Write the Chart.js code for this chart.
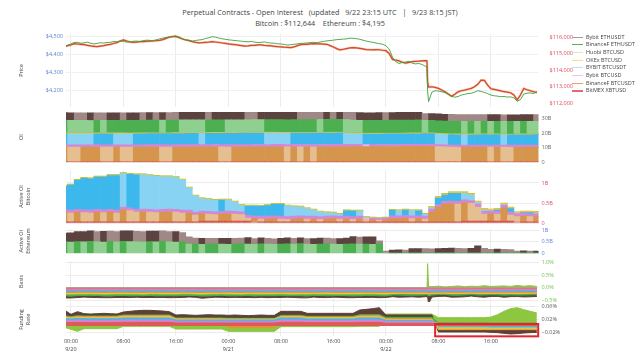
<!DOCTYPE html>
<html>
<head>
<meta charset="utf-8">
<title>Perpetual Contracts - Open Interest</title>
<script src="https://cdn.jsdelivr.net/npm/chart.js@4.4.1/dist/chart.umd.min.js"></script>
<style>
  body { margin: 0; background: #fff; }
  #wrap { position: relative; width: 640px; height: 360px; overflow: hidden; font-family: 'Open Sans', sans-serif; }
  #wrap canvas { position: absolute; left: 0; }
  #title { position: absolute; left: 0; top: 7px; width: 640px; text-align: center; color: #444; font-size: 7.3px; line-height: 11px; white-space: pre; }
  #legend { position: absolute; left: 572px; top: 33.5px; font-size: 5.5px; color: #444; }
  #legend div { height: 7.7px; line-height: 7.7px; white-space: nowrap; }
  #legend span { display: inline-block; width: 11px; vertical-align: middle; margin-right: 3px; }
</style>
</head>
<body>
<div id="wrap">
  <div id="title"></div>
  <canvas id="cPrice"></canvas>
  <canvas id="cOI"></canvas>
  <canvas id="cActBtc"></canvas>
  <canvas id="cActEth"></canvas>
  <canvas id="cBasis"></canvas>
  <canvas id="cFunding"></canvas>
  <div id="legend"></div>
</div>
<script>
// hours since 9/20 00:00 UTC
const HOURS = [-1, 0, 1, 2, 3, 4, 5, 6, 7, 8, 9, 10, 11, 12, 13, 14, 15, 16, 17, 18, 19, 20, 21, 22, 23, 24, 25, 26, 27, 28, 29, 30, 31, 32, 33, 34, 35, 36, 37, 38, 39, 40, 41, 42, 43, 44, 45, 46, 47, 48, 49, 50, 51, 52, 53, 54, 55, 56, 57, 58, 59, 60, 61, 62, 63, 64, 65, 66, 67, 68, 69, 70, 71];
// basis has a few extra samples around the 9/22 06:20 crash
const LINE_HOURS = [-1, 0, 1, 2, 3, 4, 5, 6, 7, 8, 9, 10, 11, 12, 13, 14, 15, 16, 17, 18, 19, 20, 21, 22, 23, 24, 25, 26, 27, 28, 29, 30, 31, 32, 33, 34, 35, 36, 37, 38, 39, 40, 41, 42, 43, 44, 45, 46, 47, 48, 49, 50, 51, 52, 53, 54, 54.25, 54.35, 54.5, 55, 56, 57, 58, 59, 60, 61, 62, 63, 64, 65, 66, 67, 68, 69, 70, 71];
// prices every half hour, plus the crash
const PRICE_HOURS = [
  -1, -0.5, 0, 0.5, 1, 1.5, 2, 2.5, 3, 3.5, 4, 4.5, 5, 5.5, 6, 6.5, 7, 7.5, 8, 8.5,
  9, 9.5, 10, 10.5, 11, 11.5, 12, 12.5, 13, 13.5, 14, 14.5, 15, 15.5, 16, 16.5, 17, 17.5, 18, 18.5,
  19, 19.5, 20, 20.5, 21, 21.5, 22, 22.5, 23, 23.5, 24, 24.5, 25, 25.5, 26, 26.5, 27, 27.5, 28, 28.5,
  29, 29.5, 30, 30.5, 31, 31.5, 32, 32.5, 33, 33.5, 34, 34.5, 35, 35.5, 36, 36.5, 37, 37.5, 38, 38.5,
  39, 39.5, 40, 40.5, 41, 41.5, 42, 42.5, 43, 43.5, 44, 44.5, 45, 45.5, 46, 46.5, 47, 47.5, 48, 48.5,
  49, 49.5, 50, 50.5, 51, 51.5, 52, 52.5, 53, 53.5, 54, 54.25, 54.35, 54.5,
  55, 55.5, 56, 56.5, 57, 57.5, 58, 58.5, 59, 59.5, 60, 60.5, 61, 61.5, 62, 62.5, 63, 63.5, 64, 64.5,
  65, 65.5, 66, 66.5, 67, 67.5, 68, 68.5, 69, 69.5, 70, 70.5, 71
];

const X_TICKS = [0, 8, 16, 24, 32, 40, 48, 56, 64];
const X_TICK_LABELS = [['00:00', '9/20'], '08:00', '16:00', ['00:00', '9/21'], '08:00', '16:00', ['00:00', '9/22'], '08:00', '16:00'];

const ETH_PRICE = [
  4444, 4452, 4458, 4466, 4467, 4462, 4464, 4468, 4462, 4458,
  4461, 4465, 4463, 4466, 4467, 4472, 4470, 4474, 4472, 4468,
  4470, 4473, 4474, 4471, 4476, 4479, 4478, 4476, 4481, 4486,
  4490, 4494, 4496, 4500, 4502, 4495, 4486, 4481, 4478, 4474,
  4477, 4480, 4482, 4488, 4492, 4498, 4496, 4491, 4487, 4484,
  4481, 4479, 4477, 4475, 4473, 4471, 4470, 4472, 4468, 4466,
  4467, 4469, 4465, 4463, 4462, 4459, 4458, 4455, 4452, 4454,
  4456, 4459, 4461, 4462, 4464, 4466, 4467, 4465, 4469, 4472,
  4475, 4477, 4479, 4482, 4483, 4485, 4486, 4490, 4489, 4487,
  4484, 4479, 4474, 4470, 4467, 4463, 4460, 4456, 4448, 4430,
  4385, 4360, 4350, 4356, 4358, 4362, 4352, 4348, 4350, 4345,
  4335, 4332, 4200, 4140,
  4192, 4200, 4198, 4194, 4190, 4180, 4170, 4164, 4168, 4176,
  4180, 4184, 4186, 4192, 4200, 4196, 4190, 4184, 4176, 4172,
  4170, 4167, 4168, 4165, 4166, 4160, 4142, 4150, 4182, 4186,
  4188, 4184, 4195
];
const BTC_PRICE = [
  115400, 115470, 115520, 115600, 115578, 115560, 115540, 115500, 115460, 115440,
  115420, 115450, 115480, 115520, 115560, 115610, 115660, 115760, 115820, 115760,
  115700, 115680, 115690, 115720, 115717, 115740, 115750, 115760, 115777, 115800,
  115840, 115920, 115990, 116020, 116040, 115960, 115880, 115820, 115780, 115720,
  115680, 115650, 115660, 115680, 115690, 115720, 115700, 115670, 115640, 115610,
  115580, 115560, 115540, 115510, 115480, 115450, 115460, 115490, 115500, 115520,
  115530, 115500, 115480, 115460, 115440, 115420, 115410, 115390, 115380, 115360,
  115400, 115480, 115540, 115550, 115560, 115580, 115600, 115590, 115580, 115570,
  115560, 115480, 115400, 115300, 115220, 115260, 115300, 115340, 115360, 115340,
  115317, 115280, 115240, 115230, 115220, 115240, 115230, 115200, 115175, 115000,
  114650, 114600, 114560, 114480, 114420, 114470, 114520, 114530, 114540, 114560,
  114574, 114560, 113300, 112980,
  113000, 112960, 112900, 112800, 112700, 112560, 112420, 112550, 112690, 112760,
  112800, 112850, 112900, 113000, 113150, 113400, 113380, 113100, 112880, 112840,
  112800, 112750, 112700, 112680, 112640, 112500, 112210, 112500, 112900, 112820,
  112760, 112700, 112644
];
const ETH_TICKS = [4200, 4300, 4400, 4500];
const ETH_TICK_LABELS = ['$4,200', '$4,300', '$4,400', '$4,500'];
const BTC_TICKS = [112000, 113000, 114000, 115000, 116000];
const BTC_TICK_LABELS = ['$112,000', '$113,000', '$114,000', '$115,000', '$116,000'];

// open interest, billions USD
const OI_BITMEX = [
  0.25, 0.25, 0.25, 0.25, 0.25, 0.25, 0.25, 0.25, 0.25, 0.25, 0.25, 0.25, 0.25, 0.25, 0.25, 0.25, 0.25, 0.25, 0.25, 0.25,
  0.25, 0.25, 0.25, 0.25, 0.25, 0.25, 0.25, 0.25, 0.25, 0.25, 0.25, 0.25, 0.25, 0.25, 0.25, 0.25, 0.25, 0.25, 0.25, 0.25,
  0.25, 0.25, 0.25, 0.25, 0.25, 0.25, 0.25, 0.25, 0.25, 0.25, 0.25, 0.25, 0.25, 0.25, 0.25, 0.25, 0.25, 0.25, 0.25, 0.25,
  0.25, 0.25, 0.25, 0.25, 0.25, 0.25, 0.25, 0.25, 0.25, 0.25, 0.25, 0.25, 0.25
];
const OI_BINANCE_BTC = [
  10.20, 10.18, 10.16, 10.18, 10.20, 10.22, 10.20, 10.18, 10.20, 10.18,
  10.16, 10.18, 10.20, 10.22, 10.24, 10.22, 10.20, 10.22, 10.24, 10.26,
  10.28, 10.30, 10.32, 10.34, 10.30, 10.26, 10.28, 10.30, 10.32, 10.34,
  10.36, 10.38, 10.40, 10.42, 10.38, 10.40, 10.36, 10.38, 10.34, 10.36,
  10.38, 10.40, 10.42, 10.44, 10.46, 10.48, 10.50, 10.52, 10.54, 10.56,
  10.58, 10.60, 10.62, 10.64, 10.66, 10.68, 10.70, 10.50, 10.30, 10.20,
  10.10, 10.12, 10.14, 10.16, 10.18, 10.14, 10.16, 10.12, 10.08, 10.10,
  10.12, 10.14, 10.16
];
const OI_BYBIT_BTCUSD = [
  1.6, 1.6, 1.6, 1.6, 1.6, 1.6, 1.6, 1.6, 1.6, 1.6, 1.6, 1.6, 1.6, 1.6, 1.6, 1.6, 1.6, 1.6, 1.6, 1.6,
  1.6, 1.6, 1.6, 1.6, 1.6, 1.6, 1.6, 1.6, 1.6, 1.6, 1.6, 1.6, 1.6, 1.6, 1.6, 1.6, 1.6, 1.6, 1.6, 1.6,
  1.6, 1.6, 1.6, 1.6, 1.6, 1.6, 1.4, 1.4, 1.4, 1.4, 1.4, 1.4, 1.4, 1.4, 1.4, 1.4, 1.4, 1.4, 1.4, 1.4,
  1.4, 1.4, 1.4, 1.4, 1.4, 1.4, 1.4, 1.4, 1.4, 1.4, 1.4, 1.4, 1.4
];
const OI_BYBIT_BTCUSDT = [
  7.60, 7.58, 7.56, 7.54, 7.52, 7.54, 7.56, 7.58, 7.56, 7.54,
  7.52, 7.54, 7.56, 7.58, 7.60, 7.62, 7.64, 7.66, 7.68, 7.70,
  7.72, 7.70, 7.72, 7.74, 7.76, 7.78, 7.80, 7.82, 7.84, 7.86,
  7.88, 7.84, 7.80, 7.76, 7.72, 7.74, 7.76, 7.78, 7.80, 7.82,
  7.84, 7.86, 7.88, 7.60, 7.40, 7.20, 7.21, 7.22, 7.23, 7.24,
  7.25, 7.26, 7.27, 7.28, 7.29, 7.30, 7.31, 7.20, 7.10, 7.11,
  7.12, 7.08, 7.09, 7.10, 7.11, 7.12, 7.13, 7.08, 7.09, 7.10,
  7.11, 7.12, 7.13
];
const OI_OKEX = [
  0.4, 0.4, 0.4, 0.4, 0.4, 0.4, 0.4, 0.4, 0.4, 0.4, 0.4, 0.4, 0.4, 0.4, 0.4, 0.4, 0.4, 0.4, 0.4, 0.4,
  0.4, 0.4, 0.4, 0.4, 0.4, 0.4, 0.4, 0.4, 0.4, 0.4, 0.4, 0.4, 0.4, 0.4, 0.4, 0.4, 0.4, 0.4, 0.4, 0.4,
  0.4, 0.4, 0.4, 0.4, 0.4, 0.4, 0.4, 0.4, 0.4, 0.4, 0.4, 0.4, 0.4, 0.4, 0.4, 0.4, 0.4, 0.4, 0.4, 0.4,
  0.4, 0.4, 0.4, 0.4, 0.4, 0.4, 0.4, 0.4, 0.4, 0.4, 0.4, 0.4, 0.4
];
const OI_HUOBI = [
  0.2, 0.2, 0.2, 0.2, 0.2, 0.2, 0.2, 0.2, 0.2, 0.2, 0.2, 0.2, 0.2, 0.2, 0.2, 0.2, 0.2, 0.2, 0.2, 0.2,
  0.2, 0.2, 0.2, 0.2, 0.2, 0.2, 0.2, 0.2, 0.2, 0.2, 0.2, 0.2, 0.2, 0.2, 0.2, 0.2, 0.2, 0.2, 0.2, 0.2,
  0.2, 0.2, 0.2, 0.2, 0.2, 0.2, 0.2, 0.2, 0.2, 0.2, 0.2, 0.2, 0.2, 0.2, 0.2, 0.2, 0.2, 0.2, 0.2, 0.2,
  0.2, 0.2, 0.2, 0.2, 0.2, 0.2, 0.2, 0.2, 0.2, 0.2, 0.2, 0.2, 0.2
];
const OI_BINANCE_ETH = [
  8.60, 8.58, 8.56, 8.54, 8.52, 8.54, 8.52, 8.54, 8.56, 8.58,
  8.60, 8.62, 8.64, 8.66, 8.68, 8.66, 8.68, 8.70, 8.68, 8.66,
  8.64, 8.62, 8.64, 8.66, 8.68, 8.66, 8.64, 8.62, 8.60, 8.58,
  8.56, 8.58, 8.60, 8.62, 8.64, 8.66, 8.68, 8.70, 8.72, 8.70,
  8.72, 8.74, 8.76, 8.74, 8.72, 8.70, 8.72, 8.74, 8.76, 8.78,
  8.80, 8.82, 8.84, 8.86, 8.88, 8.50, 8.52, 8.54, 8.56, 8.58,
  8.60, 8.58, 8.60, 8.58, 8.60, 8.58, 8.60, 8.58, 8.60, 8.58,
  8.60, 8.58, 8.56
];
const OI_BYBIT_ETH = [
  5.20, 5.22, 5.20, 5.18, 5.20, 5.18, 5.16, 5.18, 5.20, 5.18,
  5.20, 5.22, 5.20, 5.22, 5.20, 5.22, 5.20, 5.18, 5.20, 5.22,
  5.24, 5.26, 5.24, 5.26, 5.28, 5.30, 5.32, 5.34, 5.30, 5.26,
  5.28, 5.30, 5.32, 5.34, 5.36, 5.38, 5.34, 5.30, 5.26, 5.22,
  5.24, 5.22, 5.24, 5.22, 5.20, 5.22, 5.24, 5.26, 5.28, 5.24,
  5.26, 5.28, 5.30, 5.32, 5.34, 4.70, 4.72, 4.74, 4.76, 4.74,
  4.70, 4.66, 4.62, 4.58, 4.54, 4.56, 4.58, 4.56, 4.58, 4.60,
  4.62, 4.64, 4.62
];
const OI_TICKS = [0, 10, 20, 30];
const OI_TICK_LABELS = ['0', '10B', '20B', '30B'];

// active OI, billions USD
const ACT_BTC_BITMEX = [
  0.03, 0.03, 0.03, 0.03, 0.03, 0.03, 0.03, 0.03, 0.03, 0.03, 0.03, 0.03, 0.03, 0.03, 0.03, 0.03, 0.03, 0.03, 0.03, 0.03,
  0.03, 0.05, 0.05, 0.05, 0.05, 0.05, 0.05, 0.05, 0.05, 0.03, 0.03, 0.03, 0.03, 0.03, 0.03, 0.03, 0.03, 0.03, 0.03, 0.03,
  0.03, 0.03, 0.03, 0.03, 0.03, 0.03, 0.03, 0.03, 0.03, 0.03, 0.03, 0.03, 0.03, 0.03, 0.03, 0.03, 0.03, 0.03, 0.03, 0.03,
  0.03, 0.05, 0.05, 0.05, 0.05, 0.05, 0.05, 0.05, 0.05, 0.03, 0.03, 0.03, 0.03
];
const ACT_BTC_BINANCE = [
  0.23, 0.22, 0.24, 0.23, 0.22, 0.24, 0.23, 0.24, 0.22, 0.30,
  0.28, 0.24, 0.25, 0.24, 0.23, 0.24, 0.25, 0.24, 0.22, 0.22,
  0.17, 0.18, 0.17, 0.16, 0.17, 0.18, 0.17, 0.16, 0.07, 0.08,
  0.07, 0.07, 0.08, 0.07, 0.06, 0.07, 0.08, 0.07, 0.07, 0.06,
  0.07, 0.08, 0.07, 0.07, 0.06, 0.07, 0.05, 0.05, 0.04, 0.05,
  0.08, 0.08, 0.09, 0.08, 0.08, 0.07, 0.25, 0.36, 0.44, 0.45,
  0.44, 0.46, 0.44, 0.35, 0.17, 0.18, 0.17, 0.32, 0.15, 0.13,
  0.14, 0.13, 0.13
];
const ACT_BTC_BYBIT_USD = [
  0.07, 0.07, 0.07, 0.07, 0.07, 0.07, 0.07, 0.07, 0.07, 0.07, 0.07, 0.07, 0.07, 0.07, 0.07, 0.07, 0.07, 0.07, 0.07, 0.07,
  0.07, 0.07, 0.07, 0.07, 0.07, 0.07, 0.07, 0.07, 0.07, 0.07, 0.07, 0.07, 0.07, 0.07, 0.07, 0.07, 0.07, 0.07, 0.07, 0.07,
  0.07, 0.07, 0.07, 0.07, 0.07, 0.07, 0.04, 0.04, 0.04, 0.04, 0.07, 0.07, 0.07, 0.07, 0.07, 0.07, 0.07, 0.07, 0.07, 0.07,
  0.07, 0.07, 0.07, 0.07, 0.07, 0.07, 0.07, 0.07, 0.07, 0.07, 0.07, 0.07, 0.07
];
const ACT_BTC_BYBIT_USDT = [
  0.595, 0.625, 0.725, 0.785, 0.785, 0.805, 0.815, 0.845, 0.865, 0.835,
  0.835, 0.865, 0.855, 0.845, 0.835, 0.815, 0.805, 0.795, 0.755, 0.555,
  0.405, 0.305, 0.295, 0.285, 0.285, 0.275, 0.235, 0.155, 0.235, 0.245,
  0.245, 0.265, 0.285, 0.295, 0.265, 0.235, 0.215, 0.185, 0.155, 0.115,
  0.085, 0.065, 0.045, 0.135, 0.135, 0.125, 0.015, 0.005, 0.0, 0.005,
  0.135, 0.125, 0.135, 0.125, 0.125, 0.045, 0.02, 0.16, 0.16, 0.19,
  0.20, 0.16, 0.14, 0.04, 0.03, 0.01, 0.03, 0.02, 0.09, 0.01,
  0.02, 0.03, 0.02
];
const ACT_BTC_OKEX = [
  0.015, 0.015, 0.015, 0.015, 0.015, 0.015, 0.015, 0.015, 0.015, 0.015, 0.015, 0.015, 0.015, 0.015, 0.015, 0.015, 0.015, 0.015, 0.015, 0.015,
  0.015, 0.015, 0.015, 0.015, 0.015, 0.015, 0.015, 0.015, 0.015, 0.015, 0.015, 0.015, 0.015, 0.015, 0.015, 0.015, 0.015, 0.015, 0.015, 0.015,
  0.015, 0.015, 0.015, 0.015, 0.015, 0.015, 0.015, 0.015, 0.015, 0.015, 0.015, 0.015, 0.015, 0.015, 0.015, 0.015, 0.03, 0.03, 0.03, 0.03,
  0.03, 0.03, 0.03, 0.03, 0.03, 0.03, 0.03, 0.03, 0.03, 0.03, 0.03, 0.03, 0.03
];
const ACT_BTC_HUOBI = [
  0.01, 0.01, 0.01, 0.01, 0.01, 0.01, 0.01, 0.01, 0.01, 0.01, 0.01, 0.01, 0.01, 0.01, 0.01, 0.01, 0.01, 0.01, 0.01, 0.01,
  0.01, 0.01, 0.01, 0.01, 0.01, 0.01, 0.01, 0.01, 0.01, 0.01, 0.01, 0.01, 0.01, 0.01, 0.01, 0.01, 0.01, 0.01, 0.01, 0.01,
  0.01, 0.01, 0.01, 0.01, 0.01, 0.01, 0.01, 0.01, 0.01, 0.01, 0.01, 0.01, 0.01, 0.01, 0.01, 0.01, 0.01, 0.01, 0.01, 0.01,
  0.01, 0.01, 0.01, 0.01, 0.01, 0.01, 0.01, 0.01, 0.01, 0.01, 0.01, 0.01, 0.01
];
const ACT_ETH_BINANCE = [
  0.50, 0.49, 0.51, 0.50, 0.52, 0.50, 0.49, 0.51, 0.50, 0.52,
  0.51, 0.50, 0.49, 0.51, 0.50, 0.52, 0.50, 0.49, 0.50, 0.40,
  0.41, 0.39, 0.40, 0.41, 0.40, 0.39, 0.40, 0.42, 0.40, 0.39,
  0.41, 0.40, 0.39, 0.40, 0.41, 0.40, 0.42, 0.40, 0.39, 0.40,
  0.41, 0.40, 0.39, 0.40, 0.41, 0.40, 0.40, 0.39, 0.41, 0.01,
  0.01, 0.01, 0.01, 0.01, 0.01, 0.01, 0.01, 0.01, 0.01, 0.01,
  0.01, 0.01, 0.01, 0.01, 0.01, 0.01, 0.01, 0.01, 0.01, 0.01,
  0.01, 0.01, 0.01
];
const ACT_ETH_BYBIT = [
  0.38, 0.40, 0.43, 0.44, 0.46, 0.45, 0.47, 0.46, 0.45, 0.46,
  0.47, 0.46, 0.45, 0.46, 0.47, 0.46, 0.45, 0.46, 0.40, 0.32,
  0.25, 0.26, 0.25, 0.24, 0.25, 0.26, 0.25, 0.24, 0.28, 0.25,
  0.26, 0.25, 0.24, 0.25, 0.26, 0.25, 0.25, 0.24, 0.25, 0.26,
  0.25, 0.24, 0.25, 0.26, 0.32, 0.31, 0.32, 0.33, 0.13, 0.09,
  0.13, 0.14, 0.13, 0.19, 0.20, 0.19, 0.18, 0.19, 0.21, 0.22,
  0.21, 0.20, 0.21, 0.31, 0.21, 0.16, 0.17, 0.16, 0.15, 0.09,
  0.10, 0.09, 0.09
];
const ACT_TICKS = [0, 0.5, 1];
const ACT_TICK_LABELS = ['0', '0.5B', '1B'];

// basis, percent (on LINE_HOURS)
const BASIS_BITMEX = [
  -0.04, -0.04, -0.045, -0.04, -0.035, -0.04, -0.04, -0.045, -0.04, -0.04,
  -0.04, -0.035, -0.04, -0.04, -0.045, -0.04, -0.04, -0.04, -0.035, -0.04,
  -0.04, -0.045, -0.04, -0.04, -0.04, -0.035, -0.04, -0.04, -0.045, -0.04,
  -0.04, -0.04, -0.035, -0.04, -0.04, -0.045, -0.04, -0.04, -0.04, -0.035,
  -0.04, -0.04, -0.045, -0.04, -0.04, -0.04, -0.035, -0.04, -0.04, -0.045,
  -0.04, -0.04, -0.04, -0.035, -0.04, -0.04, -0.04, -0.04, -0.04, -0.04,
  -0.035, -0.04, -0.04, -0.045, -0.04, -0.04, -0.04, -0.035, -0.04, -0.04,
  -0.045, -0.04, -0.04, -0.04, -0.035, -0.04
];
const BASIS_BYBIT_USD = [
  -0.05, -0.055, -0.05, -0.05, -0.045, -0.05, -0.055, -0.05, -0.05, -0.045,
  -0.05, -0.05, -0.055, -0.05, -0.05, -0.045, -0.05, -0.05, -0.055, -0.05,
  -0.05, -0.05, -0.045, -0.05, -0.055, -0.05, -0.05, -0.05, -0.045, -0.05,
  -0.055, -0.05, -0.05, -0.045, -0.05, -0.05, -0.055, -0.05, -0.05, -0.05,
  -0.045, -0.05, -0.055, -0.05, -0.05, -0.045, -0.05, -0.05, -0.055, -0.05,
  -0.05, -0.045, -0.05, -0.05, -0.055, -0.05, -0.05, -0.05, -0.06, -0.05,
  -0.05, -0.045, -0.05, -0.055, -0.05, -0.05, -0.045, -0.05, -0.05, -0.055,
  -0.05, -0.05, -0.045, -0.05, -0.055, -0.05
];
const BASIS_BYBIT_USDT = [
  -0.05, -0.05, -0.045, -0.05, -0.055, -0.05, -0.05, -0.045, -0.05, -0.055,
  -0.05, -0.05, -0.05, -0.045, -0.05, -0.055, -0.05, -0.05, -0.045, -0.05,
  -0.05, -0.055, -0.05, -0.05, -0.045, -0.05, -0.05, -0.055, -0.05, -0.05,
  -0.045, -0.05, -0.05, -0.055, -0.05, -0.05, -0.045, -0.05, -0.05, -0.055,
  -0.05, -0.05, -0.045, -0.05, -0.05, -0.055, -0.05, -0.05, -0.045, -0.05,
  -0.05, -0.055, -0.05, -0.05, -0.045, -0.05, -0.05, -0.05, -0.06, -0.05,
  -0.055, -0.05, -0.05, -0.045, -0.05, -0.05, -0.055, -0.05, -0.05, -0.045,
  -0.05, -0.05, -0.055, -0.05, -0.05, -0.045
];
const BASIS_BINANCE_BTC = [
  -0.04, -0.045, -0.04, -0.035, -0.04, -0.04, -0.045, -0.04, -0.04, -0.035,
  -0.04, -0.045, -0.04, -0.04, -0.035, -0.04, -0.045, -0.04, -0.04, -0.035,
  -0.04, -0.04, -0.045, -0.04, -0.035, -0.04, -0.04, -0.045, -0.04, -0.04,
  -0.035, -0.04, -0.045, -0.04, -0.04, -0.035, -0.04, -0.045, -0.04, -0.04,
  -0.035, -0.04, -0.04, -0.045, -0.04, -0.035, -0.04, -0.04, -0.045, -0.04,
  -0.04, -0.035, -0.04, -0.045, -0.04, -0.04, -0.04, -0.04, -0.05, -0.04,
  -0.035, -0.04, -0.045, -0.04, -0.04, -0.035, -0.04, -0.045, -0.04, -0.04,
  -0.035, -0.04, -0.045, -0.04, -0.04, -0.035
];
const BASIS_OKEX = [
  -0.045, -0.04, -0.045, -0.05, -0.045, -0.04, -0.045, -0.05, -0.045, -0.045,
  -0.04, -0.045, -0.05, -0.045, -0.04, -0.045, -0.045, -0.05, -0.045, -0.04,
  -0.045, -0.05, -0.045, -0.045, -0.04, -0.045, -0.05, -0.045, -0.04, -0.045,
  -0.045, -0.05, -0.045, -0.04, -0.045, -0.05, -0.045, -0.045, -0.04, -0.045,
  -0.05, -0.045, -0.04, -0.045, -0.045, -0.05, -0.045, -0.04, -0.045, -0.05,
  -0.045, -0.045, -0.04, -0.045, -0.05, -0.045, -0.045, -0.045, -0.05, -0.045,
  -0.04, -0.045, -0.05, -0.045, -0.045, -0.04, -0.045, -0.05, -0.045, -0.04,
  -0.045, -0.045, -0.05, -0.045, -0.04, -0.045
];
const BASIS_HUOBI = [
  -0.03, -0.035, -0.03, -0.025, -0.03, -0.035, -0.03, -0.03, -0.025, -0.03,
  -0.035, -0.03, -0.03, -0.025, -0.03, -0.035, -0.03, -0.03, -0.025, -0.03,
  -0.035, -0.03, -0.03, -0.025, -0.03, -0.035, -0.03, -0.03, -0.025, -0.03,
  -0.035, -0.03, -0.03, -0.025, -0.03, -0.035, -0.03, -0.03, -0.025, -0.03,
  -0.035, -0.03, -0.03, -0.025, -0.03, -0.035, -0.03, -0.03, -0.025, -0.03,
  -0.01, -0.01, -0.01, -0.01, -0.01, 0.0, 0.0, 0.95, 0.05, 0.04,
  0.06, 0.03, 0.05, 0.07, 0.04, 0.06, 0.05, 0.08, 0.05, 0.06,
  0.07, 0.05, 0.09, 0.06, 0.08, 0.05
];
const BASIS_BINANCE_ETH = [
  -0.06, -0.07, -0.055, -0.06, -0.065, -0.05, -0.06, -0.07, -0.06, -0.055,
  -0.065, -0.06, -0.05, -0.06, -0.07, -0.06, -0.055, -0.06, -0.065, -0.06,
  -0.05, -0.06, -0.07, -0.06, -0.055, -0.065, -0.06, -0.05, -0.06, -0.07,
  -0.06, -0.055, -0.06, -0.065, -0.06, -0.05, -0.06, -0.07, -0.06, -0.055,
  -0.065, -0.06, -0.05, -0.06, -0.07, -0.06, -0.055, -0.06, -0.065, -0.06,
  -0.05, -0.06, -0.07, -0.06, -0.055, -0.06, -0.06, -0.06, -0.07, -0.065,
  -0.06, -0.05, -0.06, -0.07, -0.06, -0.055, -0.065, -0.06, -0.05, -0.06,
  -0.07, -0.06, -0.055, -0.065, -0.06, -0.06
];
const BASIS_BYBIT_ETH = [
  -0.09, -0.07, -0.08, -0.06, -0.07, -0.085, -0.07, -0.065, -0.075, -0.08,
  -0.07, -0.06, -0.075, -0.08, -0.07, -0.065, -0.08, -0.07, -0.075, -0.06,
  -0.07, -0.085, -0.07, -0.065, -0.08, -0.07, -0.06, -0.075, -0.08, -0.07,
  -0.065, -0.08, -0.07, -0.075, -0.06, -0.07, -0.085, -0.07, -0.065, -0.08,
  -0.07, -0.06, -0.075, -0.08, -0.07, -0.065, -0.08, -0.07, -0.075, -0.06,
  -0.07, -0.085, -0.07, -0.065, -0.08, -0.07, -0.07, -0.07, -0.30, -0.08,
  -0.07, -0.065, -0.08, -0.07, -0.075, -0.06, -0.07, -0.085, -0.07, -0.065,
  -0.08, -0.07, -0.06, -0.075, -0.08, -0.07
];
const BASIS_TICKS = [-0.5, 0, 0.5, 1];
const BASIS_TICK_LABELS = ['\u22120.5%', '0.0%', '0.5%', '1.0%'];

// funding rate, percent
const FUND_BITMEX = [
  0.011, 0.010, 0.011, 0.010, 0.010, 0.010, 0.010, 0.010, 0.010, 0.011, 0.011, 0.011, 0.011, 0.011, 0.011, 0.011, 0.011,
  0.009, 0.009, 0.009, 0.009, 0.009, 0.009, 0.009, 0.009, 0.009, 0.009, 0.009, 0.009, 0.009, 0.009, 0.009, 0.009,
  0.011, 0.011, 0.011, 0.011, 0.010, 0.010, 0.010, 0.010, 0.010, 0.010, 0.010, 0.010, 0.011, 0.011, 0.011, 0.011,
  0.008, 0.008, 0.008, 0.008, 0.008, 0.008, 0.008, 0.008, 0.004, 0.004, 0.004, 0.004, 0.004, 0.004, 0.004, 0.004,
  0.004, 0.004, 0.004, 0.004, 0.004, 0.004, 0.004, 0.004
];
const FUND_BYBIT_USD = [
  0.007, 0.006, 0.007, 0.007, 0.007, 0.007, 0.007, 0.007, 0.007, 0.007, 0.007, 0.007, 0.007, 0.007, 0.007, 0.007, 0.007,
  0.005, 0.005, 0.005, 0.005, 0.005, 0.005, 0.005, 0.005, 0.005, 0.005, 0.005, 0.005, 0.005, 0.005, 0.005, 0.005,
  0.007, 0.007, 0.007, 0.007, 0.006, 0.006, 0.006, 0.006, 0.006, 0.006, 0.006, 0.006, 0.007, 0.007, 0.007, 0.007,
  0.005, 0.005, 0.005, 0.005, 0.005, 0.005, 0.005, 0.005, 0.004, 0.004, 0.004, 0.004, 0.004, 0.004, 0.004, 0.004,
  0.003, 0.003, 0.003, 0.003, 0.003, 0.003, 0.003, 0.003
];
const FUND_BYBIT_USDT = [
  0.005, 0.005, 0.005, 0.005, 0.005, 0.005, 0.005, 0.005, 0.005, 0.006, 0.006, 0.006, 0.006, 0.006, 0.006, 0.006, 0.006,
  0.004, 0.004, 0.004, 0.004, 0.004, 0.004, 0.004, 0.004, 0.004, 0.004, 0.004, 0.004, 0.004, 0.004, 0.004, 0.004,
  0.006, 0.006, 0.006, 0.006, 0.005, 0.005, 0.005, 0.005, 0.005, 0.005, 0.005, 0.005, 0.006, 0.006, 0.006, 0.006,
  0.004, 0.004, 0.004, 0.004, 0.004, 0.004, 0.004, 0.004, -0.002, -0.002, -0.002, -0.002, -0.002, -0.002, -0.002, -0.002,
  -0.003, -0.003, -0.003, -0.003, -0.003, -0.003, -0.003, -0.003
];
const FUND_OKEX = [
  0.004, 0.003, 0.004, 0.004, 0.004, 0.004, 0.004, 0.004, 0.004, 0.005, 0.005, 0.005, 0.005, 0.005, 0.005, 0.005, 0.005,
  0.003, 0.003, 0.003, 0.003, 0.003, 0.003, 0.003, 0.003, 0.003, 0.003, 0.003, 0.003, 0.003, 0.003, 0.003, 0.003,
  0.004, 0.004, 0.004, 0.004, 0.004, 0.004, 0.004, 0.004, 0.004, 0.004, 0.004, 0.004, 0.005, 0.005, 0.005, 0.005,
  0.003, 0.003, 0.003, 0.003, 0.003, 0.003, 0.003, 0.003, -0.007, -0.007, -0.007, -0.007, -0.007, -0.007, -0.007, -0.007,
  -0.006, -0.006, -0.006, -0.006, -0.006, -0.006, -0.006, -0.006
];
const FUND_BINANCE_BTC = [
  0.002, 0.002, 0.002, 0.002, 0.002, 0.002, 0.002, 0.002, 0.002, 0.002, 0.002, 0.002, 0.002, 0.002, 0.002, 0.002, 0.002,
  0.001, 0.001, 0.001, 0.001, 0.001, 0.001, 0.001, 0.001, -0.004, -0.004, -0.004, -0.004, -0.004, -0.004, -0.004, -0.004,
  0.002, 0.002, 0.002, 0.002, 0.002, 0.002, 0.002, 0.002, 0.002, 0.002, 0.002, 0.002, 0.002, 0.002, 0.002, 0.002,
  0.002, 0.002, 0.002, 0.002, 0.002, 0.002, 0.002, 0.002, -0.002, -0.002, -0.002, -0.002, -0.002, -0.002, -0.002, -0.002,
  -0.002, -0.002, -0.002, -0.002, -0.002, -0.002, -0.002, -0.002
];
const FUND_BINANCE_ETH = [
  0.002, 0.002, 0.002, 0.002, 0.002, 0.002, 0.002, 0.002, 0.002, 0.002, 0.002, 0.002, 0.002, 0.002, 0.002, 0.002, 0.002,
  0.002, 0.002, 0.002, 0.002, 0.002, 0.002, 0.002, 0.002, 0.002, 0.002, 0.002, 0.002, 0.002, 0.002, 0.002, 0.002,
  0.002, 0.002, 0.002, 0.002, 0.002, 0.002, 0.002, 0.002, 0.002, 0.002, 0.002, 0.002, 0.003, 0.003, 0.003, 0.003,
  0.004, 0.004, 0.004, 0.004, 0.004, 0.004, 0.004, 0.004, 0.002, 0.002, 0.002, 0.002, 0.002, 0.002, 0.002, 0.002,
  0.002, 0.002, 0.002, 0.002, 0.002, 0.002, 0.002, 0.002
];
const FUND_BYBIT_ETH = [
  0.017, 0.007, 0.012, 0.007, 0.006, 0.007, 0.008, 0.007, 0.006, 0.009, 0.011, 0.013, 0.014, 0.014, 0.013, 0.012, 0.010,
  0.009, 0.010, 0.009, 0.008, 0.009, 0.010, 0.009, 0.009, 0.009, 0.010, 0.009, 0.008, 0.009, 0.010, 0.009, 0.009,
  0.012, 0.012, 0.012, 0.012, 0.009, 0.009, 0.009, 0.009, 0.009, 0.009, 0.009, 0.009, 0.014, 0.016, 0.018, 0.021,
  0.007, 0.007, 0.007, 0.007, 0.007, 0.007, 0.007, 0.007, -0.007, -0.007, -0.007, -0.007, -0.007, -0.007, -0.007, -0.007,
  -0.008, -0.009, -0.011, -0.013, -0.012, -0.010, -0.009, -0.008
];
const FUND_HUOBI = [
  -0.004, -0.010, -0.016, -0.008, -0.008, -0.008, -0.008, -0.008, -0.008, -0.001, -0.001, -0.001, -0.001, -0.001, -0.001, -0.001, -0.001,
  -0.009, -0.009, -0.009, -0.009, -0.009, -0.009, -0.009, -0.009, -0.012, -0.012, -0.012, -0.012, -0.012, -0.012, -0.012, -0.012,
  -0.002, -0.002, -0.002, -0.002, -0.002, -0.002, -0.002, -0.002, -0.002, -0.002, -0.002, -0.002, -0.001, -0.001, -0.001, -0.001,
  0.003, 0.003, 0.003, 0.003, 0.003, 0.003, 0.003, 0.003, 0.015, 0.015, 0.015, 0.015, 0.015, 0.015, 0.015, 0.015,
  0.018, 0.025, 0.035, 0.043, 0.046, 0.040, 0.035, 0.030
];
const FUND_TICKS = [-0.02, 0, 0.02, 0.04, 0.06];
const FUND_TICK_LABELS = ['\u22120.02%', '0.00%', '0.02%', '0.04%', '0.06%'];

// highlighted region on the funding panel (hours, percent)
const HIGHLIGHT = { from: 55.5, to: 71.2, top: 0.006, bottom: -0.031 };

const LEGEND_LABELS = ['Bybit ETHUSDT', 'BinanceF ETHUSDT', 'Huobi BTCUSD', 'OKEx BTCUSD', 'BYBIT BTCUSDT', 'Bybit BTCUSD', 'BinanceF BTCUSDT', 'BitMEX XBTUSD'];
const LEGEND_COLORS = ['#ab9898', '#55b055', '#dfe9c0', '#f8dc8c', '#b3e3f8', '#f2c2f0', '#e8a462', '#e26a6a'];

const C = {
  bitmex:    { dark: '#d9534f', light: '#e98a86' },
  binBtc:    { dark: '#d6954c', light: '#e5bf8f' },
  bybitUsd:  { dark: '#d486d8', light: '#e6b5ea' },
  bybitUsdt: { dark: '#3db8ec', light: '#88d3f4' },
  okex:      { dark: '#f0c23c', light: '#f5d47a' },
  huobi:     { dark: '#8dc63f', light: '#c5e08e' },
  binEth:    { dark: '#4caf50', light: '#8fcf8f' },
  bybitEth:  { dark: '#5d4340', light: '#9f8885' }
};

const FONT = "'Open Sans', sans-serif";
const AREA_LEFT = 66, AREA_RIGHT = 538.5;
const X_MIN = -0.75, X_MAX = 71.25;
const GRID = '#ececec';
Chart.defaults.font.family = FONT;

function xAxis(showLabels) {
  return {
    type: 'linear', min: X_MIN, max: X_MAX, stacked: true, offset: false,
    afterBuildTicks: s => { s.ticks = X_TICKS.map(v => ({ value: v })); },
    afterFit: s => { s.height = showLabels ? 24 : 0; },
    grid: { color: GRID, drawTicks: false, offset: false },
    border: { display: false },
    ticks: {
      display: showLabels, padding: 1, maxRotation: 0, autoSkip: false, color: '#444',
      font: { size: 5.5, lineHeight: 1.5 },
      callback: v => X_TICK_LABELS[X_TICKS.indexOf(v)]
    }
  };
}

function yRight(min, max, ticks, labels, color, stacked) {
  return {
    position: 'right', min, max, stacked,
    afterBuildTicks: s => { s.ticks = ticks.map(v => ({ value: v })); },
    afterFit: s => { s.width = 640 - AREA_RIGHT; },
    grid: { color: GRID, drawTicks: false },
    border: { display: false },
    ticks: { padding: 3, color, font: { size: 5.5 }, callback: v => labels[ticks.indexOf(v)] }
  };
}

function yTitle(text) {
  return {
    position: 'left', display: true, min: 0, max: 1,
    afterFit: s => { s.width = AREA_LEFT; },
    grid: { display: false }, border: { display: false },
    ticks: { display: false },
    title: { display: true, text, color: '#444', font: { size: 5.5, lineHeight: 1.3 }, padding: { top: 17.4, bottom: 0 } }
  };
}

function placeCanvas(id, areaTop, areaBottom, below) {
  const canvas = document.getElementById(id);
  const top = Math.floor(areaTop) - 8;
  const height = Math.ceil(areaBottom + below + 8) - top;
  canvas.width = 640;
  canvas.height = height;
  canvas.style.top = top + 'px';
  return {
    canvas,
    padding: { top: areaTop - top, bottom: height - (areaBottom - top) - below, left: 0, right: 0 }
  };
}

function baseOptions(padding, scales) {
  return {
    responsive: false, animation: false, events: [],
    layout: { padding },
    plugins: { legend: { display: false }, tooltip: { enabled: false } },
    scales
  };
}

// darker shade where the value rose, lighter where it fell
function shade(values, c) {
  return ctx => (ctx.dataIndex > 0 && values[ctx.dataIndex] < values[ctx.dataIndex - 1]) ? c.light : c.dark;
}

function barSet(label, values, c) {
  return {
    label, yAxisID: 'y', data: HOURS.map((h, i) => ({ x: h, y: values[i] })),
    backgroundColor: shade(values, c), borderWidth: 0,
    barPercentage: 1, categoryPercentage: 1
  };
}

function bandSet(label, times, values, color) {
  return {
    label, yAxisID: 'y', data: times.map((h, i) => ({ x: h, y: values[i] })),
    borderColor: color, backgroundColor: color, borderWidth: 1,
    fill: 'origin', pointRadius: 0, tension: 0
  };
}

function stackPanel(id, areaTop, areaBottom, type, datasets, yOpts, title, showX, plugins) {
  const below = showX ? 24 : 0;
  const p = placeCanvas(id, areaTop, areaBottom, below);
  return new Chart(p.canvas, {
    type, data: { datasets },
    options: baseOptions(p.padding, { x: xAxis(showX), y: yOpts, yl: yTitle(title) }),
    plugins: plugins || []
  });
}

// title and legend
const btcNow = BTC_PRICE[BTC_PRICE.length - 1].toLocaleString('en-US');
const ethNow = ETH_PRICE[ETH_PRICE.length - 1].toLocaleString('en-US');
document.getElementById('title').textContent =
  'Perpetual Contracts - Open Interest   (updated   9/22 23:15 UTC   |   9/23 8:15 JST)\n' +
  'Bitcoin : $' + btcNow + '    Ethereum : $' + ethNow;

const legend = document.getElementById('legend');
LEGEND_LABELS.forEach((name, i) => {
  const row = document.createElement('div');
  const thick = i === LEGEND_LABELS.length - 1 ? 2 : 1.3;
  row.innerHTML = `<span style="border-top:${thick}px solid ${LEGEND_COLORS[i]}"></span>${name}`;
  legend.appendChild(row);
});

// price panel
(function () {
  const p = placeCanvas('cPrice', 34, 107, 0);
  const line = (label, values, color, width, axis) => ({
    label, data: PRICE_HOURS.map((h, i) => ({ x: h, y: values[i] })),
    borderColor: color, borderWidth: width, pointRadius: 0, tension: 0, yAxisID: axis
  });
  const yL = {
    position: 'left', min: 4110, max: 4513,
    afterBuildTicks: s => { s.ticks = ETH_TICKS.map(v => ({ value: v })); },
    afterFit: s => { s.width = AREA_LEFT; },
    grid: { color: '#f1f1f1', drawTicks: false }, border: { display: false },
    ticks: { padding: 3, color: '#5b80d6', font: { size: 5.5 }, callback: v => ETH_TICK_LABELS[ETH_TICKS.indexOf(v)] },
    title: { display: true, text: 'Price', color: '#444', font: { size: 5.5, lineHeight: 1.3 }, padding: { top: 17.4, bottom: 0 } }
  };
  const yR = yRight(111778, 116181, BTC_TICKS, BTC_TICK_LABELS, '#e04a5a', false);
  yR.grid = { display: false };
  new Chart(p.canvas, {
    type: 'line',
    data: {
      datasets: [
        line('BinanceF ETHUSDT', ETH_PRICE, '#3e9e3e', 0.9, 'yL'),
        line('BitMEX XBTUSD', BTC_PRICE, '#d8433b', 1.2, 'yR'),
        line('BinanceF BTCUSDT', BTC_PRICE, 'rgba(236,168,84,0.65)', 2.3, 'yR')
      ]
    },
    options: baseOptions(p.padding, { x: xAxis(false), yL, yR })
  });
})();

// open interest
stackPanel('cOI', 112, 162.3, 'bar', [
  barSet('BitMEX XBTUSD', OI_BITMEX, C.bitmex),
  barSet('BinanceF BTCUSDT', OI_BINANCE_BTC, C.binBtc),
  barSet('Bybit BTCUSD', OI_BYBIT_BTCUSD, C.bybitUsd),
  barSet('BYBIT BTCUSDT', OI_BYBIT_BTCUSDT, C.bybitUsdt),
  barSet('OKEx BTCUSD', OI_OKEX, C.okex),
  barSet('Huobi BTCUSD', OI_HUOBI, C.huobi),
  barSet('BinanceF ETHUSDT', OI_BINANCE_ETH, C.binEth),
  barSet('Bybit ETHUSDT', OI_BYBIT_ETH, C.bybitEth)
], yRight(0, 34.5, OI_TICKS, OI_TICK_LABELS, '#666', true), 'OI', false);

// active OI bitcoin
stackPanel('cActBtc', 170, 223, 'bar', [
  barSet('BitMEX XBTUSD', ACT_BTC_BITMEX, C.bitmex),
  barSet('BinanceF BTCUSDT', ACT_BTC_BINANCE, C.binBtc),
  barSet('Bybit BTCUSD', ACT_BTC_BYBIT_USD, C.bybitUsd),
  barSet('BYBIT BTCUSDT', ACT_BTC_BYBIT_USDT, C.bybitUsdt),
  barSet('OKEx BTCUSD', ACT_BTC_OKEX, C.okex),
  barSet('Huobi BTCUSD', ACT_BTC_HUOBI, C.huobi)
], yRight(0, 1.325, ACT_TICKS, ACT_TICK_LABELS, '#e04a66', true), ['Active OI', 'Bitcoin'], false);

// active OI ethereum
stackPanel('cActEth', 229, 253.3, 'bar', [
  barSet('BinanceF ETHUSDT', ACT_ETH_BINANCE, C.binEth),
  barSet('Bybit ETHUSDT', ACT_ETH_BYBIT, C.bybitEth)
], yRight(0, 1.057, ACT_TICKS, ACT_TICK_LABELS, '#5b80d6', true), ['Active OI', 'Ethereum'], false);

// basis
stackPanel('cBasis', 261, 302, 'line', [
  bandSet('BitMEX XBTUSD', LINE_HOURS, BASIS_BITMEX, '#e57373'),
  bandSet('Bybit BTCUSD', LINE_HOURS, BASIS_BYBIT_USD, '#d184d6'),
  bandSet('BYBIT BTCUSDT', LINE_HOURS, BASIS_BYBIT_USDT, '#45b7ea'),
  bandSet('BinanceF BTCUSDT', LINE_HOURS, BASIS_BINANCE_BTC, '#e2923c'),
  bandSet('OKEx BTCUSD', LINE_HOURS, BASIS_OKEX, '#f0c23c'),
  bandSet('Huobi BTCUSD', LINE_HOURS, BASIS_HUOBI, '#8dc63f'),
  bandSet('BinanceF ETHUSDT', LINE_HOURS, BASIS_BINANCE_ETH, '#4caf50'),
  bandSet('Bybit ETHUSDT', LINE_HOURS, BASIS_BYBIT_ETH, '#5d4037')
], yRight(-0.565, 1.055, BASIS_TICKS, BASIS_TICK_LABELS, '#6cbf4a', true), 'Basis', false);

// funding rate, with the highlight box
const highlightBox = {
  id: 'highlightBox',
  afterDraw(chart) {
    const { x, y } = chart.scales;
    const ctx = chart.ctx;
    const l = x.getPixelForValue(HIGHLIGHT.from), r = x.getPixelForValue(HIGHLIGHT.to);
    const t = y.getPixelForValue(HIGHLIGHT.top), b = y.getPixelForValue(HIGHLIGHT.bottom);
    ctx.save();
    ctx.strokeStyle = '#e3242b';
    ctx.lineWidth = 2;
    ctx.strokeRect(l, t, r - l, b - t);
    ctx.restore();
  }
};
stackPanel('cFunding', 303, 336, 'line', [
  bandSet('BitMEX XBTUSD', HOURS, FUND_BITMEX, '#e05a55'),
  bandSet('Bybit BTCUSD', HOURS, FUND_BYBIT_USD, '#d184d6'),
  bandSet('BYBIT BTCUSDT', HOURS, FUND_BYBIT_USDT, '#45b7ea'),
  bandSet('OKEx BTCUSD', HOURS, FUND_OKEX, '#f0c23c'),
  bandSet('BinanceF BTCUSDT', HOURS, FUND_BINANCE_BTC, '#e2923c'),
  bandSet('BinanceF ETHUSDT', HOURS, FUND_BINANCE_ETH, '#4caf50'),
  bandSet('Bybit ETHUSDT', HOURS, FUND_BYBIT_ETH, '#5d4037'),
  bandSet('Huobi BTCUSD', HOURS, FUND_HUOBI, '#8dc63f')
], yRight(-0.030, 0.069, FUND_TICKS, FUND_TICK_LABELS, '#555', true), ['Funding', 'Rate'], true, [highlightBox]);
</script>
</body>
</html>
